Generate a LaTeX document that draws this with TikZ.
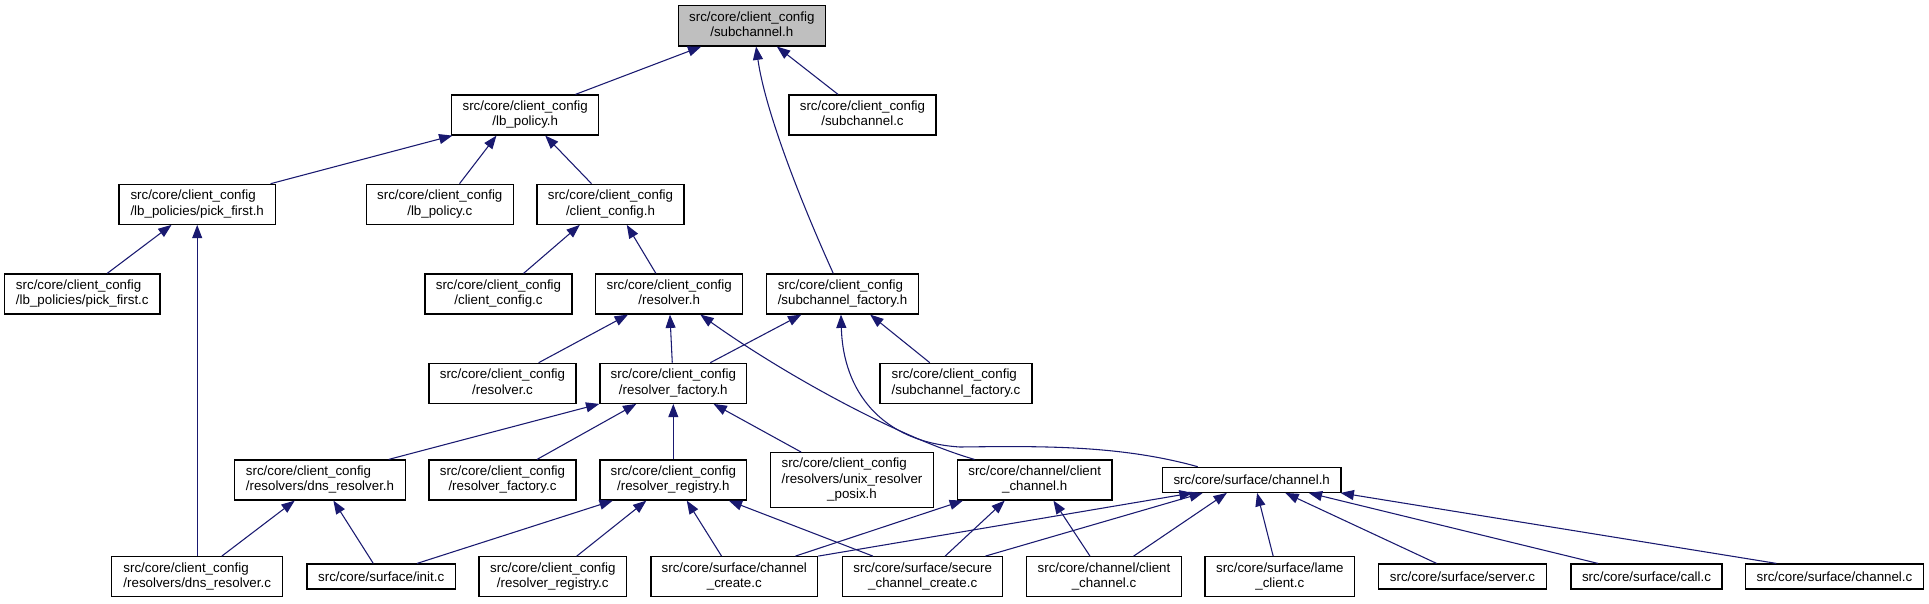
\documentclass[tikz,border=0pt]{standalone}
\usepackage{fontspec}
\setmainfont{Liberation Sans}
\usetikzlibrary{arrows.meta,calc}
\definecolor{edgeblue}{RGB}{25,25,112}
\definecolor{boxgray}{RGB}{191,191,191}
\newcommand\twol[2]{\begin{tabular}{@{}l@{}}#1\\\multicolumn{1}{@{}c@{}}{#2}\end{tabular}}
\newcommand\cfg{src/core/client\_config}
\begin{document}
\begin{tikzpicture}[x=0.75pt,y=-0.75pt,
  box/.style 2 args={draw=black, line width=0.9pt, fill=white, inner sep=0pt,
    font=\fontsize{10}{11.5}\selectfont, minimum width=#1*0.75pt, minimum height=#2*0.75pt},
  edge/.style={draw=edgeblue, line width=0.8pt, -{Triangle[length=10pt,width=7.5pt]}}]
\fill[white] (0,0) rectangle (1929,603);
\useasboundingbox (0,0) rectangle (1929,603);

% nodes
\node[box={147}{40.3}, fill=boxgray] (sh) at (751.8,25.8) {\twol{\cfg}{/subchannel.h}};
\node[box={147}{40}] (lbh) at (525.2,115) {\twol{\cfg}{/lb\_policy.h}};
\node[box={147}{40}] (shc) at (862.5,115) {\twol{\cfg}{/subchannel.c}};
\node[box={156.3}{40}] (pfh) at (197.2,204.3) {\twol{\cfg}{/lb\_policies/pick\_first.h}};
\node[box={147}{40}] (lbc) at (439.8,204.3) {\twol{\cfg}{/lb\_policy.c}};
\node[box={147}{40}] (cch) at (610.5,204.3) {\twol{\cfg}{/client\_config.h}};
\node[box={155.3}{40}] (pfc) at (82.3,294) {\twol{\cfg}{/lb\_policies/pick\_first.c}};
\node[box={147}{40}] (ccc) at (498.5,294) {\twol{\cfg}{/client\_config.c}};
\node[box={147}{40}] (rh) at (669.2,294) {\twol{\cfg}{/resolver.h}};
\node[box={152.4}{40}] (sfh) at (842.5,294) {\twol{\cfg}{/subchannel\_factory.h}};
\node[box={147}{40}] (rc) at (502.5,383.3) {\twol{\cfg}{/resolver.c}};
\node[box={146.7}{40}] (rfh) at (673.3,383.3) {\twol{\cfg}{/resolver\_factory.h}};
\node[box={152}{40}] (sfc) at (956,383.3) {\twol{\cfg}{/subchannel\_factory.c}};
\node[box={170.6}{40}] (dnsh) at (320,480) {\twol{\cfg}{/resolvers/dns\_resolver.h}};
\node[box={147}{40}] (rfc) at (502.5,480) {\twol{\cfg}{/resolver\_factory.c}};
\node[box={146.7}{40}] (rrh) at (673.3,480) {\twol{\cfg}{/resolver\_registry.h}};
\node[box={162.6}{54.6}] (unix) at (852,480)
  {\begin{tabular}{@{}l@{}}\cfg\\/resolvers/unix\_resolver\\\multicolumn{1}{@{}c@{}}{\_posix.h}\end{tabular}};
\node[box={154.7}{40}] (cchh) at (1034.7,480) {\twol{src/core/channel/client}{\_channel.h}};
\node[box={178.7}{25}] (chh) at (1251.7,479.8) {src/core/surface/channel.h};
\node[box={171}{40}] (dnsc) at (197.2,576.7) {\twol{\cfg}{/resolvers/dns\_resolver.c}};
\node[box={148.3}{25}] (initc) at (381.2,576.5) {src/core/surface/init.c};
\node[box={147.7}{40}] (rrc) at (552.8,576.7) {\twol{\cfg}{/resolver\_registry.c}};
\node[box={166.7}{40}] (ccr) at (734.3,576.7) {\twol{src/core/surface/channel}{\_create.c}};
\node[box={160}{40}] (scc) at (922.7,576.7) {\twol{src/core/surface/secure}{\_channel\_create.c}};
\node[box={154.6}{40}] (cchc) at (1104,576.7) {\twol{src/core/channel/client}{\_channel.c}};
\node[box={149.7}{40}] (lame) at (1279.8,576.7) {\twol{src/core/surface/lame}{\_client.c}};
\node[box={168.4}{25}] (srv) at (1462.5,576.5) {src/core/surface/server.c};
\node[box={151}{25}] (call) at (1646.5,576.5) {src/core/surface/call.c};
\node[box={177.6}{25}] (chc) at (1834.5,576.5) {src/core/surface/channel.c};

% edges (child -> parent)
\draw[edge] ($(lbh.north west)!0.839!(lbh.north east)$) -- ($(sh.south west)!0.159!(sh.south east)$);
\draw[edge] ($(sfh.north west)!0.44!(sfh.north east)$) .. controls (800,200) and (765,110) .. ($(sh.south west)!0.529!(sh.south east)$);
\draw[edge] ($(shc.north west)!0.335!(shc.north east)$) -- ($(sh.south west)!0.669!(sh.south east)$);
\draw[edge] ($(pfh.north west)!0.966!(pfh.north east)$) -- ($(lbh.south west)!0.009!(lbh.south east)$);
\draw[edge] ($(lbc.north west)!0.633!(lbc.north east)$) -- ($(lbh.south west)!0.306!(lbh.south east)$);
\draw[edge] ($(cch.north west)!0.372!(cch.north east)$) -- ($(lbh.south west)!0.635!(lbh.south east)$);
\draw[edge] ($(pfc.north west)!0.659!(pfc.north east)$) -- ($(pfh.south west)!0.337!(pfh.south east)$);
\draw[edge] (dnsc.north) -- (pfh.south);
\draw[edge] ($(ccc.north west)!0.669!(ccc.north east)$) -- ($(cch.south west)!0.293!(cch.south east)$);
\draw[edge] ($(rh.north west)!0.41!(rh.north east)$) -- ($(cch.south west)!0.61!(cch.south east)$);
\draw[edge] ($(rc.north west)!0.744!(rc.north east)$) -- ($(rh.south west)!0.222!(rh.south east)$);
\draw[edge] ($(rfh.north west)!0.493!(rfh.north east)$) -- ($(rh.south west)!0.505!(rh.south east)$);
\draw[edge] ($(cchh.north west)!0.114!(cchh.north east)$) .. controls (900,438) and (785,375) .. ($(rh.south west)!0.71!(rh.south east)$);
\draw[edge] ($(rfh.north west)!0.75!(rfh.north east)$) -- ($(sfh.south west)!0.232!(sfh.south east)$);
\draw[edge] ($(sfc.north west)!0.329!(sfc.north east)$) -- ($(sfh.south west)!0.68!(sfh.south east)$);
\draw[edge] ($(chh.north west)!0.2!(chh.north east)$) .. controls (1120,445) and (1040,446) .. (960,447)
  .. controls (880,442) and (843,390) .. ($(sfh.south west)!0.49!(sfh.south east)$);
\draw[edge] ($(dnsh.north west)!0.9!(dnsh.north east)$) -- (rfh.south west);
\draw[edge] ($(rfc.north west)!0.733!(rfc.north east)$) -- ($(rfh.south west)!0.25!(rfh.south east)$);
\draw[edge] (rrh.north) -- (rfh.south);
\draw[edge] ($(unix.north west)!0.19!(unix.north east)$) -- ($(rfh.south west)!0.772!(rfh.south east)$);
\draw[edge] ($(dnsc.north west)!0.643!(dnsc.north east)$) -- ($(dnsh.south west)!0.353!(dnsh.south east)$);
\draw[edge] ($(initc.north west)!0.447!(initc.north east)$) -- ($(dnsh.south west)!0.578!(dnsh.south east)$);
\draw[edge] ($(initc.north west)!0.74!(initc.north east)$) -- ($(rrh.south west)!0.091!(rrh.south east)$);
\draw[edge] ($(rrc.north west)!0.661!(rrc.north east)$) -- ($(rrh.south west)!0.318!(rrh.south east)$);
\draw[edge] ($(ccr.north west)!0.424!(ccr.north east)$) -- ($(rrh.south west)!0.591!(rrh.south east)$);
\draw[edge] ($(scc.north west)!0.191!(scc.north east)$) -- ($(rrh.south west)!0.875!(rrh.south east)$);
\draw[edge] ($(ccr.north west)!0.864!(ccr.north east)$) -- ($(cchh.south west)!0.04!(cchh.south east)$);
\draw[edge] ($(scc.north west)!0.639!(scc.north east)$) -- ($(cchh.south west)!0.308!(cchh.south east)$);
\draw[edge] ($(cchc.north west)!0.41!(cchc.north east)$) -- ($(cchh.south west)!0.62!(cchh.south east)$);
\draw[edge] (ccr.north east) -- ($(chh.south west)!0.172!(chh.south east)$);
\draw[edge] ($(scc.north west)!0.889!(scc.north east)$) -- ($(chh.south west)!0.228!(chh.south east)$);
\draw[edge] ($(cchc.north west)!0.69!(cchc.north east)$) -- ($(chh.south west)!0.362!(chh.south east)$);
\draw[edge] ($(lame.north west)!0.456!(lame.north east)$) -- ($(chh.south west)!0.53!(chh.south east)$);
\draw[edge] ($(srv.north west)!0.347!(srv.north east)$) -- ($(chh.south west)!0.687!(chh.south east)$);
\draw[edge] ($(call.north west)!0.181!(call.north east)$) -- ($(chh.south west)!0.817!(chh.south east)$);
\draw[edge] ($(chc.north west)!0.175!(chc.north east)$) -- ($(chh.south west)!0.994!(chh.south east)$);
\end{tikzpicture}
\end{document}
